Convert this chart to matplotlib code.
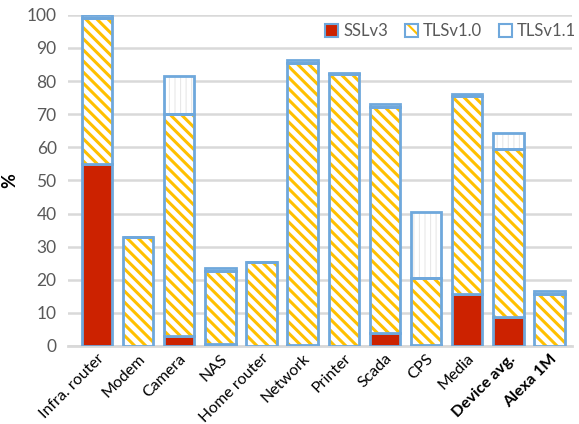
import matplotlib
matplotlib.use("Agg")
from matplotlib import pyplot as plt
from matplotlib.patches import Patch
import numpy as np

# data (% of devices)
categories = ["Infra. router", "Modem", "Camera", "NAS", "Home router", "Network",
              "Printer", "Scada", "CPS", "Media", "Device avg.", "Alexa 1M"]
sslv3 = [55, 0, 3, 0.5, 0, 0.3, 0, 4, 0.3, 15.7, 8.9, 0]
tlsv10 = [44, 33, 67, 22, 25.4, 85.3, 82.2, 68.2, 20.2, 59.8, 50.6, 15.6]
tlsv11 = [1, 0, 11.6, 1, 0, 0.9, 0.3, 0.9, 20, 0.6, 4.9, 0.9]
y_ticks = [0, 10, 20, 30, 40, 50, 60, 70, 80, 90, 100]

plt.rcParams['font.family'] = ['Lato', 'DejaVu Sans']
plt.rcParams['hatch.linewidth'] = 2.2

red = "#CC2200"
yellow = "#FFC000"
blue = "#6FA8DC"
grey = "#D9D9D9"
text_grey = "#595959"

fig = plt.figure(figsize=(5.79, 4.24), dpi=100)
ax = fig.add_axes([0.117, 0.184, 0.871, 0.781])

x = np.arange(len(categories))
w = 0.74
ssl = np.array(sslv3)
t10 = np.array(tlsv10)
t11 = np.array(tlsv11)

ax.bar(x, ssl, w, color=red, edgecolor=blue, linewidth=2, zorder=3)
ax.bar(x, t10, w, bottom=ssl, color="white", edgecolor=yellow, hatch="\\\\\\", linewidth=0, zorder=3)
ax.bar(x, t10, w, bottom=ssl, color="none", edgecolor=blue, linewidth=2, zorder=4)
with plt.rc_context({'hatch.linewidth': 0.8}):
    ax.bar(x, t11, w, bottom=ssl + t10, color="white", edgecolor="#E8E8E8", hatch="|||", linewidth=0, zorder=3)
ax.bar(x, t11, w, bottom=ssl + t10, color="none", edgecolor=blue, linewidth=2, zorder=4)

ax.set_ylim(0, 100)
ax.set_xlim(-0.71, 11.55)
ax.set_yticks(y_ticks)
ax.set_yticklabels([str(t) for t in y_ticks], fontsize=12.5, color=text_grey)
ax.yaxis.grid(True, color=grey, linewidth=1.8, zorder=0)
ax.set_axisbelow(True)
ax.tick_params(length=0, pad=8)
ax.tick_params(axis='x', pad=4)
for s in ["top", "right", "left"]:
    ax.spines[s].set_visible(False)
ax.spines["bottom"].set_color(grey)
ax.spines["bottom"].set_linewidth(2)

ax.set_xticks(x)
labels = ax.set_xticklabels(categories, rotation=45, ha="right", rotation_mode="anchor",
                            fontsize=11.5)
for lab in labels[-2:]:
    lab.set_fontweight("bold")

ax.set_ylabel("%", fontsize=13, fontweight="bold", labelpad=6)

with plt.rc_context({'hatch.linewidth': 1.5}):
    handles = [
        Patch(facecolor=red, edgecolor=blue, linewidth=1.5),
        (Patch(facecolor="white", edgecolor=yellow, hatch="\\\\", linewidth=0),
         Patch(facecolor="none", edgecolor=blue, linewidth=1.5)),
        Patch(facecolor="white", edgecolor=blue, linewidth=1.5),
    ]
    leg = ax.legend(handles, ["SSLv3", "TLSv1.0", "TLSv1.1"], loc="upper right", ncol=3,
                    frameon=False, fontsize=12, handlelength=0.8, handleheight=0.8,
                    handletextpad=0.3, columnspacing=1.0,
                    bbox_to_anchor=(1.025, 1.0), borderaxespad=0.1)
for t in leg.get_texts():
    t.set_color(text_grey)

fig.savefig("out.png", dpi=100)
